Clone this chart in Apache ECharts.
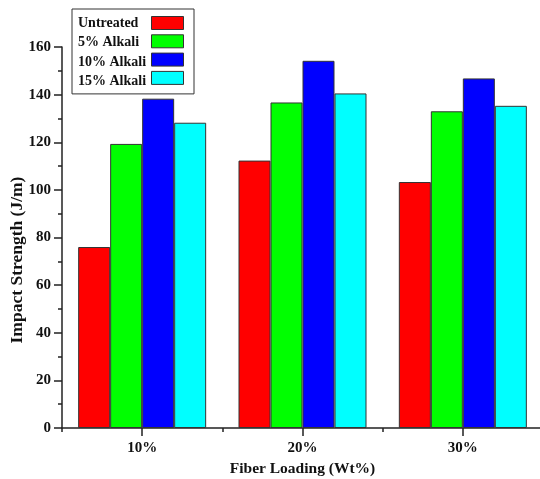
<!DOCTYPE html>
<html>
<head>
<meta charset="utf-8">
<script src="https://cdn.jsdelivr.net/npm/echarts@6/dist/echarts.min.js"></script>
<style>
  html, body { margin: 0; padding: 0; background: #fff; }
  #chart { width: 540px; height: 479px; }
</style>
</head>
<body>
<div id="chart"></div>
<script>
// Fiber loading groups and impact strength (J/m) per treatment
const categories = ['10%', '20%', '30%'];
const seriesNames = ['Untreated', '5% Alkali', '10% Alkali', '15% Alkali'];
const untreated = [76, 112.3, 103.3];
const alkali5 = [119.3, 136.7, 133];
const alkali10 = [138.3, 154.2, 146.8];
const alkali15 = [128.2, 140.5, 135.3];
const yTicks = { min: 0, max: 160, step: 20 };

const values = [untreated, alkali5, alkali10, alkali15];
const colors = ['#ff0000', '#00ff00', '#0000ff', '#00ffff'];
const serif = '"Liberation Serif", "Times New Roman", serif';
const ink = '#222';

const chart = echarts.init(document.getElementById('chart'), null, { renderer: 'canvas' });

const series = seriesNames.map((name, i) => ({
  name,
  type: 'bar',
  xAxisIndex: 0,
  yAxisIndex: 0,
  data: values[i],
  barWidth: 32,
  barGap: '0%',
  itemStyle: { color: colors[i], borderColor: '#333', borderWidth: 1 },
  emphasis: { disabled: true },
  animation: false
}));

chart.setOption({
  animation: false,
  backgroundColor: '#fff',
  grid: { left: 62, top: 47, width: 481, height: 381, outerBoundsMode: 'none', containLabel: false },
  legend: [
    {
      // names column, framed box
      data: seriesNames,
      orient: 'vertical',
      left: 72,
      top: 9,
      padding: [7, 47, 5, 0],
      itemWidth: 0,
      itemHeight: 13,
      itemGap: 4.3,
      borderColor: '#333',
      borderWidth: 1,
      itemStyle: { opacity: 0 },
      selectedMode: false,
      textStyle: {
        fontFamily: serif, fontWeight: 'bold', fontSize: 14,
        color: '#111', width: 69, lineHeight: 13, padding: 0
      }
    },
    {
      // colour swatches column
      data: seriesNames,
      orient: 'vertical',
      left: 151,
      top: 9,
      padding: [7, 0, 5, 0],
      itemWidth: 32,
      itemHeight: 13,
      itemGap: 4.3,
      icon: 'rect',
      selectedMode: false,
      itemStyle: { borderColor: '#333', borderWidth: 1 },
      formatter: () => '',
      textStyle: { fontSize: 1, lineHeight: 1 }
    }
  ],
  xAxis: [
    {
      type: 'category',
      data: categories,
      position: 'bottom',
      name: 'Fiber Loading (Wt%)',
      nameLocation: 'middle',
      nameGap: 33,
      nameMoveOverlap: false,
      nameTextStyle: { fontFamily: serif, fontWeight: 'bold', fontSize: 15.5, color: '#111' },
      axisLine: { show: true, lineStyle: { color: ink, width: 1.5 } },
      axisTick: { show: true, alignWithLabel: true, length: 8, lineStyle: { color: ink, width: 1.5 } },
      axisLabel: { margin: 13, fontFamily: serif, fontWeight: 'bold', fontSize: 15, color: '#111' },
      splitLine: { show: false }
    },
    {
      // short ticks on group boundaries
      type: 'category',
      data: categories,
      position: 'bottom',
      axisLine: { show: false },
      axisTick: { show: true, alignWithLabel: false, length: 4, lineStyle: { color: ink, width: 1.5 } },
      axisLabel: { show: false },
      splitLine: { show: false }
    }
  ],
  yAxis: {
    type: 'value',
    min: yTicks.min,
    max: yTicks.max,
    interval: yTicks.step,
    name: 'Impact Strength (J/m)',
    nameLocation: 'middle',
    nameGap: 36,
    nameMoveOverlap: false,
    nameTextStyle: { fontFamily: serif, fontWeight: 'bold', fontSize: 17.5, color: '#111', padding: [0, 45, 0, 0] },
    axisLine: { show: true, lineStyle: { color: ink, width: 1.5 } },
    axisTick: { show: true, length: 8, lineStyle: { color: ink, width: 1.5 } },
    minorTick: { show: true, splitNumber: 2, length: 4, lineStyle: { color: ink, width: 1.5 } },
    axisLabel: { margin: 11, fontFamily: serif, fontWeight: 'bold', fontSize: 15, color: '#111' },
    splitLine: { show: false }
  },
  series
});
</script>
</body>
</html>
